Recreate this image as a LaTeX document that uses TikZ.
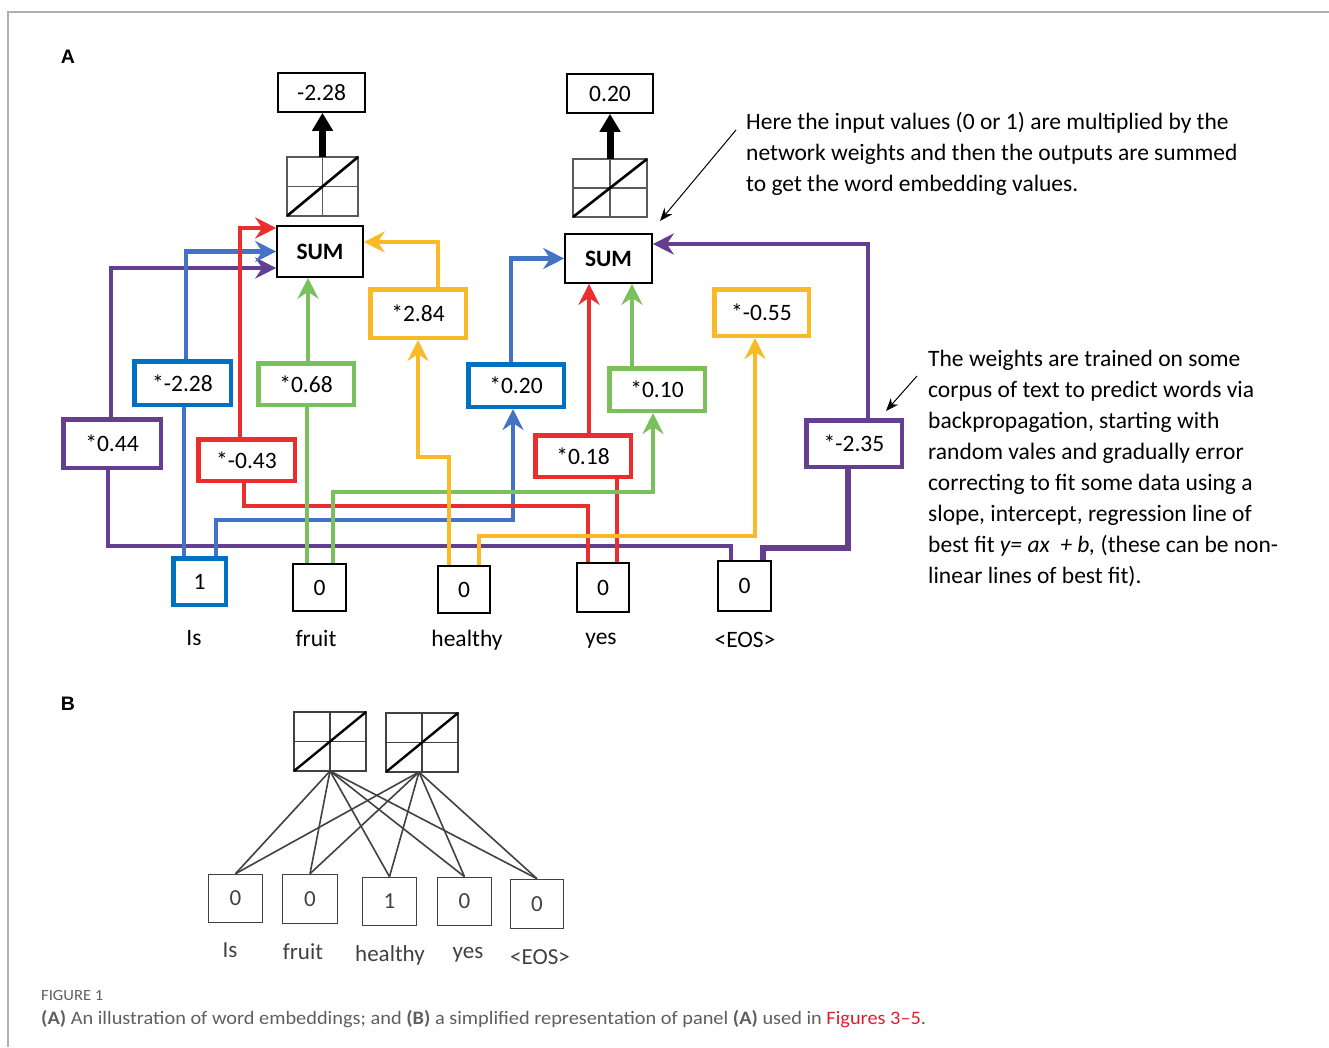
\documentclass[tikz,border=0pt]{standalone}
\usepackage{fontspec}
\setmainfont{Carlito}
\newfontfamily\panelfont{Liberation Sans}
\newfontfamily\capfont[FakeStretch=1.07]{Carlito}
\usetikzlibrary{arrows.meta}

\definecolor{wpurple}{RGB}{100,62,145}
\definecolor{wblue}{RGB}{68,114,196}
\definecolor{wbluebox}{RGB}{0,112,192}
\definecolor{wred}{RGB}{235,45,45}
\definecolor{wgreen}{RGB}{122,192,92}
\definecolor{wyellow}{RGB}{250,186,40}
\definecolor{framegrey}{RGB}{175,175,175}
\definecolor{capgrey}{RGB}{95,95,95}
\definecolor{capred}{RGB}{222,30,45}
\definecolor{gridgrey}{RGB}{90,90,90}
\definecolor{bgrey}{RGB}{65,65,65}

\tikzset{
  txt/.style={font=\fontsize{23.5}{27}\selectfont},
  wire/.style={line width=4.5pt},
  arrowend/.style={-{Stealth[length=21pt,width=21pt,inset=7pt]}},
  wirebox/.style={draw, line width=4.5pt, inner sep=0pt, fill=white, txt},
  plainbox/.style={draw, line width=1.6pt, inner sep=0pt, fill=white, txt},
  actbox/.style={draw=gridgrey, line width=1.8pt, inner sep=0pt, outer sep=0pt, fill=white},
  actgrid/.style={draw=gridgrey, line width=1.8pt},
  actdiag/.style={draw=black, line width=2.6pt},
  outarrow/.style={line width=7pt, -{Triangle[length=18pt,width=20pt]}},
  note/.style={line width=1pt, -{Stealth[length=13pt,width=10pt]}},
  notetext/.style={anchor=north west, align=left, inner sep=0pt, font=\fontsize{23.5}{31}\selectfont},
  bwire/.style={draw=bgrey, line width=1.6pt},
  bbox/.style={draw=bgrey, line width=1.6pt, inner sep=0pt, fill=white, text=bgrey, font=\fontsize{23}{26}\selectfont},
  blabel/.style={text=bgrey, font=\fontsize{23}{26}\selectfont},
  panel/.style={font=\panelfont\bfseries\fontsize{19.5}{22}\selectfont}
}

\begin{document}
\begin{tikzpicture}[x=1pt,y=-1pt]
\useasboundingbox (0,0) rectangle (1329,1047);

% frame of the figure
\draw[framegrey, line width=1.6pt] (1329,12) -- (8,12) -- (8,1047);

% ---------------- panel A ----------------
\node[panel] (labA) at (68,57) {A};

% outputs
\node[plainbox, minimum width=87pt, minimum height=39pt] (out1) at (321.5,92.5) {-2.28\hspace{6pt}};
\node[plainbox, minimum width=86pt, minimum height=39pt] (out2) at (610,93.5) {0.20\hspace{12pt}};

% activation functions
\node[actbox, minimum width=71pt, minimum height=59pt] (act1) at (322.5,186.5) {};
\draw[actgrid] (act1.north) -- (act1.south) (act1.west) -- (act1.east);
\draw[actdiag] (act1.south west) -- (act1.north east);
\node[actbox, minimum width=74pt, minimum height=58pt] (act2) at (610,188) {};
\draw[actgrid] (act2.north) -- (act2.south) (act2.west) -- (act2.east);
\draw[actdiag] (act2.south west) -- (act2.north east);

\draw[outarrow] (act1.north) -- (act1.north |- out1.south);
\draw[outarrow] (act2.north) -- (act2.north |- out2.south);

% sums
\node[plainbox, minimum width=86pt, minimum height=51pt, font=\fontsize{23.5}{27}\selectfont\bfseries] (sum1) at (320,251.5) {SUM\hspace{10pt}};
\node[plainbox, minimum width=87pt, minimum height=49pt, font=\fontsize{23.5}{27}\selectfont\bfseries] (sum2) at (608.5,258.5) {SUM\hspace{9pt}};

% weights
\node[wirebox, draw=wpurple, minimum width=97.5pt, minimum height=48.5pt] (w044) at (112,443.5) {*0.44};
\node[wirebox, draw=wbluebox, minimum width=96.5pt, minimum height=43.5pt] (w228) at (182.5,383) {*-2.28};
\node[wirebox, draw=wred, minimum width=96.5pt, minimum height=41.5pt] (w043) at (246.5,460) {*-0.43};
\node[wirebox, draw=wgreen, minimum width=95.5pt, minimum height=41.5pt] (w068) at (306,384) {*0.68};
\node[wirebox, draw=wyellow, minimum width=95.5pt, minimum height=48.5pt] (w284) at (418,313.5) {*2.84};
\node[wirebox, draw=wbluebox, minimum width=95.5pt, minimum height=42.5pt] (w020) at (516,385.5) {*0.20};
\node[wirebox, draw=wred, minimum width=95.5pt, minimum height=41.5pt] (w018) at (583,456) {*0.18};
\node[wirebox, draw=wgreen, minimum width=95.5pt, minimum height=42.5pt] (w010) at (657,389.5) {*0.10};
\node[wirebox, draw=wyellow, minimum width=94.5pt, minimum height=46.5pt] (w055) at (761.5,312.5) {*-0.55};
\node[wirebox, draw=wpurple, minimum width=95.5pt, minimum height=46.5pt] (w235) at (854,443.5) {*-2.35};

% inputs
\node[wirebox, draw=wbluebox, minimum width=52.5pt, minimum height=46.5pt] (inIs) at (199.5,581.5) {1};
\node[plainbox, minimum width=53pt, minimum height=47pt] (inFruit) at (319.5,587.5) {0};
\node[plainbox, minimum width=52pt, minimum height=47pt] (inHealthy) at (464,589.5) {0};
\node[plainbox, minimum width=52pt, minimum height=49pt] (inYes) at (603,587.5) {0};
\node[plainbox, minimum width=53pt, minimum height=50pt] (inEOS) at (744.5,586) {0};

\node[txt] (tIs) at (194,638) {Is};
\node[txt] (tFruit) at (316,638) {fruit};
\node[txt] (tHealthy) at (467,640) {healthy};
\node[txt] (tYes) at (601,641) {yes};
\node[txt] (tEOS) at (745,640) {<EOS>};

% wires: purple
\draw[wire, wpurple] ([xshift=-13.5pt]inEOS.north) -- ++(0,-14) -| ([xshift=-4pt]w044.south);
\draw[wire, wpurple, arrowend] ([xshift=-1pt]w044.north) |- ([yshift=-16.5pt]sum1.west);
\draw[wire, wpurple, line width=6pt] ([xshift=18.5pt]inEOS.north) -- ++(0,-12) -| ([xshift=-6pt]w235.south);
\draw[wire, wpurple, arrowend] ([xshift=14pt]w235.north) |- ([yshift=14.5pt]sum2.east);

% wires: blue
\draw[wire, wblue] ([xshift=-15.5pt]inIs.north) -- ([xshift=-15.5pt]inIs.north |- w228.south);
\draw[wire, wblue, arrowend] ([xshift=3.5pt]w228.north) |- (sum1.west);
\draw[wire, wblue, arrowend] ([xshift=16.5pt]inIs.north) -- ++(0,-36) -| ([xshift=-3pt]w020.south);
\draw[wire, wblue, arrowend] ([xshift=-5pt]w020.north) |- (sum2.west);

% wires: red
\draw[wire, wred] ([xshift=-15pt]inYes.north) -- ++(0,-56) -| ([xshift=-2.5pt]w043.south);
\draw[wire, wred, arrowend] ([xshift=-6.5pt]w043.north) |- ([yshift=23.5pt]sum1.west);
\draw[wire, wred] ([xshift=14pt]inYes.north) -- ([xshift=14pt]inYes.north |- w018.south);
\draw[wire, wred, arrowend] ([xshift=6pt]w018.north) -- ([xshift=6pt]w018.north |- sum2.south);

% wires: green
\draw[wire, wgreen] ([xshift=-12.5pt]inFruit.north) -- ([xshift=-12.5pt]inFruit.north |- w068.south);
\draw[wire, wgreen, arrowend] ([xshift=2pt]w068.north) -- ([xshift=2pt]w068.north |- sum1.south);
\draw[wire, wgreen, arrowend] ([xshift=13.5pt]inFruit.north) -- ++(0,-71) -| ([xshift=-4pt]w010.south);
\draw[wire, wgreen, arrowend] ([xshift=-25pt]w010.north) -- ([xshift=-25pt]w010.north |- sum2.south);

% wires: yellow
\draw[wire, wyellow, arrowend] ([xshift=-15pt]inHealthy.north) -- ++(0,-108) -| (w284.south);
\draw[wire, wyellow, arrowend] ([xshift=20pt]w284.north) |- ([yshift=9.5pt]sum1.east);
\draw[wire, wyellow, arrowend] ([xshift=15pt]inHealthy.north) -- ++(0,-29) -| ([xshift=-6.5pt]w055.south);

% notes
\node[notetext] (note1) at (746,112) {Here the input values (0 or 1) are multiplied by the\\network weights and then the outputs are summed\\to get the word embedding values.};
\coordinate (n1a) at (736,130);
\coordinate (n1b) at (660,221);
\draw[note] (n1a) -- (n1b);

\node[notetext] (note2) at (928,350) {The weights are trained on some\\corpus of text to predict words via\\backpropagation, starting with\\random vales and gradually error\\correcting to fit some data using a\\slope, intercept, regression line of\\best fit \textit{y= ax\ \ + b,} (these can be non-\\linear lines of best fit).};
\coordinate (n2a) at (917,376);
\coordinate (n2b) at (886,411);
\draw[note] (n2a) -- (n2b);

% ---------------- panel B ----------------
\node[panel] (labB) at (68,704) {B};

\node[actbox, draw=bgrey, line width=1.6pt, minimum width=72pt, minimum height=59pt] (b1) at (330,741.5) {};
\draw[bwire] (b1.north) -- (b1.south) (b1.west) -- (b1.east);
\draw[actdiag, line width=2.4pt] (b1.south west) -- (b1.north east);
\node[actbox, draw=bgrey, line width=1.6pt, minimum width=72pt, minimum height=59pt] (b2) at (422,742.5) {};
\draw[bwire] (b2.north) -- (b2.south) (b2.west) -- (b2.east);
\draw[actdiag, line width=2.4pt] (b2.south west) -- (b2.north east);

\node[bbox, minimum width=54pt, minimum height=48pt] (bIs) at (235.5,898.5) {0};
\node[bbox, minimum width=55pt, minimum height=49pt] (bFruit) at (310,899) {0};
\node[bbox, minimum width=54pt, minimum height=48pt] (bHealthy) at (389.5,901.5) {1};
\node[bbox, minimum width=54pt, minimum height=48pt] (bYes) at (464.5,901.5) {0};
\node[bbox, minimum width=53pt, minimum height=49pt] (bEOS) at (537,904) {0};

\foreach \n in {bIs,bFruit,bHealthy,bYes,bEOS}{
  \draw[bwire] (b1.south) -- (\n.north);
  \draw[bwire] ([xshift=-3pt]b2.south) -- (\n.north);
}

\node[blabel] (lIs) at (230,950) {Is};
\node[blabel] (lFruit) at (303,952) {fruit};
\node[blabel] (lHealthy) at (390,955) {healthy};
\node[blabel] (lYes) at (468,955) {yes};
\node[blabel] (lEOS) at (540,957) {<EOS>};

% ---------------- caption ----------------
\node[anchor=west, inner sep=0pt, text=capgrey, font=\capfont\fontsize{15.5}{17}\selectfont] (figno) at (41,996) {FIGURE 1};
\node[anchor=west, inner sep=0pt, text=capgrey, font=\capfont\fontsize{19}{21}\selectfont] (caption) at (41,1019)
  {\textbf{(A)} An illustration of word embeddings; and \textbf{(B)} a simplified representation of panel \textbf{(A)} used in \textcolor{capred}{Figures 3–5}.};
\end{tikzpicture}
\end{document}
